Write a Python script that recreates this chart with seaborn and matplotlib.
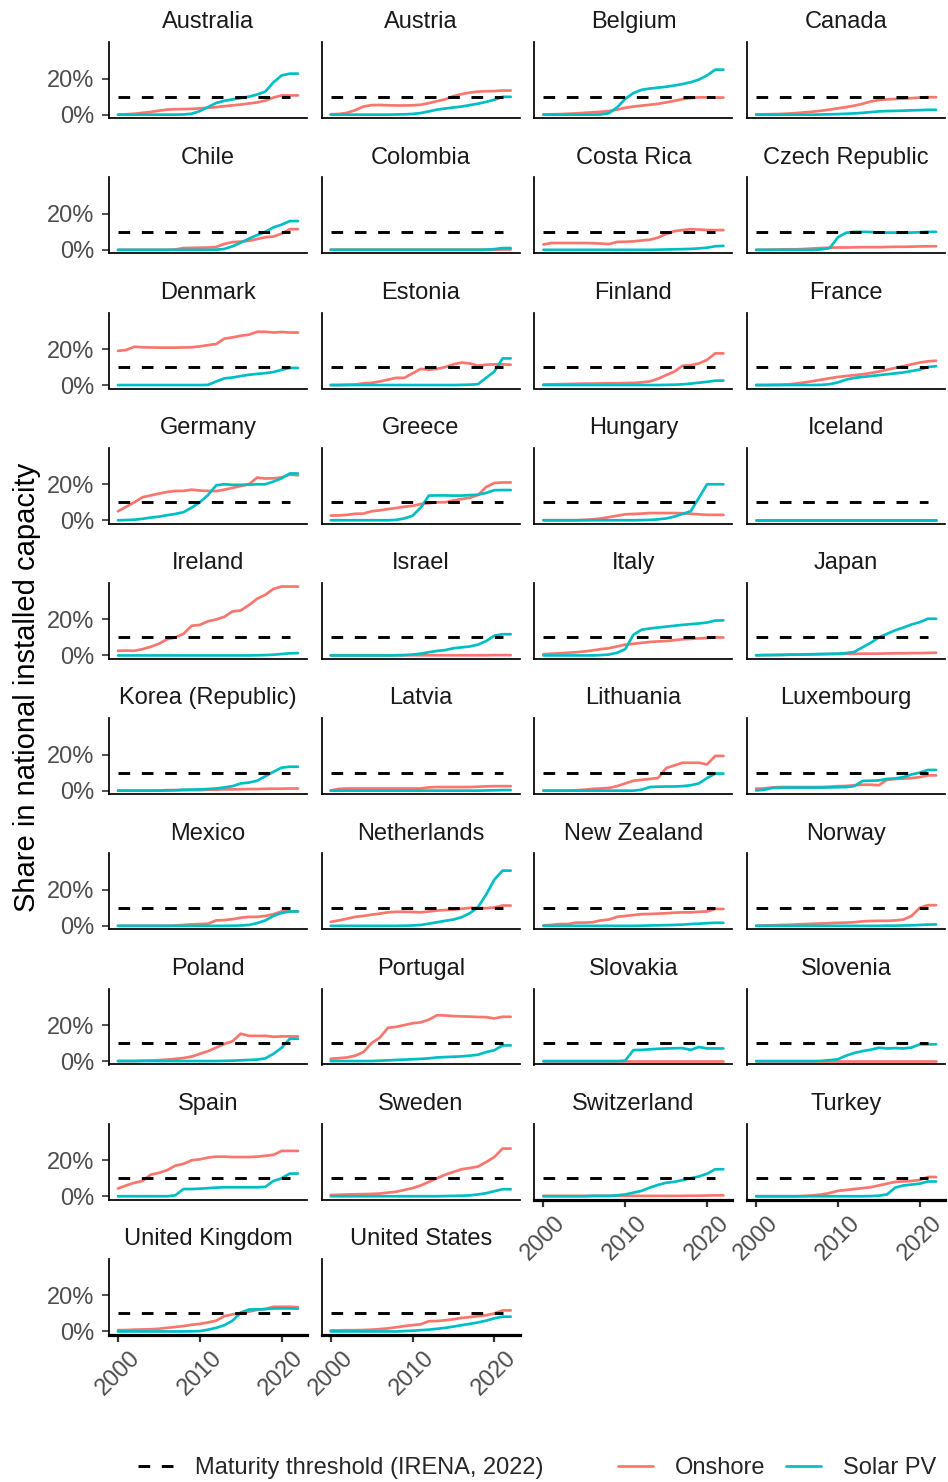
import matplotlib
matplotlib.use("Agg")
import matplotlib.pyplot as plt
import pandas as pd
import seaborn as sns
from matplotlib.lines import Line2D
from matplotlib.ticker import PercentFormatter

# ---------------------------------------------------------------- data
YEARS = list(range(2000, 2023))

COUNTRIES = [
    "Australia", "Austria", "Belgium", "Canada",
    "Chile", "Colombia", "Costa Rica", "Czech Republic",
    "Denmark", "Estonia", "Finland", "France",
    "Germany", "Greece", "Hungary", "Iceland",
    "Ireland", "Israel", "Italy", "Japan",
    "Korea (Republic)", "Latvia", "Lithuania", "Luxembourg",
    "Mexico", "Netherlands", "New Zealand", "Norway",
    "Poland", "Portugal", "Slovakia", "Slovenia",
    "Spain", "Sweden", "Switzerland", "Turkey",
    "United Kingdom", "United States",
]

TECHS = ["Onshore", "Solar PV"]
TECH_COLORS = ["#F8766D", "#00BFC4"]

# maturity threshold (share of national capacity)
THRESHOLD_YEARS = [2000, 2021]
THRESHOLD_SHARE = [0.10, 0.10]

# share in national installed capacity, 2000-2022
au_on = [0.000, 0.002, 0.005, 0.010, 0.015, 0.022, 0.028, 0.030, 0.031, 0.032, 0.035, 0.038, 0.042, 0.047, 0.052, 0.056, 0.062, 0.068, 0.078, 0.095, 0.107, 0.107, 0.107]
au_pv = [0.000, 0.000, 0.000, 0.000, 0.000, 0.000, 0.000, 0.000, 0.001, 0.005, 0.020, 0.042, 0.065, 0.077, 0.085, 0.092, 0.100, 0.112, 0.128, 0.180, 0.218, 0.228, 0.228]
at_on = [0.002, 0.004, 0.010, 0.025, 0.045, 0.053, 0.054, 0.052, 0.051, 0.051, 0.052, 0.055, 0.064, 0.075, 0.085, 0.103, 0.114, 0.123, 0.128, 0.130, 0.131, 0.134, 0.134]
at_pv = [0.000, 0.000, 0.000, 0.000, 0.000, 0.000, 0.000, 0.000, 0.001, 0.002, 0.004, 0.009, 0.018, 0.028, 0.034, 0.040, 0.045, 0.053, 0.061, 0.071, 0.083, 0.099, 0.099]
be_on = [0.001, 0.002, 0.003, 0.005, 0.007, 0.010, 0.013, 0.016, 0.020, 0.028, 0.038, 0.045, 0.050, 0.055, 0.060, 0.068, 0.077, 0.086, 0.092, 0.096, 0.096, 0.095, 0.095]
be_pv = [0.000, 0.000, 0.000, 0.000, 0.000, 0.000, 0.000, 0.001, 0.008, 0.040, 0.088, 0.120, 0.138, 0.145, 0.150, 0.155, 0.162, 0.170, 0.180, 0.195, 0.218, 0.250, 0.250]
ca_on = [0.001, 0.002, 0.003, 0.004, 0.006, 0.009, 0.013, 0.017, 0.022, 0.028, 0.035, 0.042, 0.050, 0.060, 0.073, 0.081, 0.085, 0.087, 0.089, 0.092, 0.095, 0.097, 0.097]
ca_pv = [0.000, 0.000, 0.000, 0.000, 0.000, 0.000, 0.000, 0.000, 0.001, 0.002, 0.003, 0.005, 0.007, 0.010, 0.014, 0.018, 0.020, 0.021, 0.022, 0.024, 0.025, 0.027, 0.027]
cl_on = [0.000, 0.000, 0.000, 0.000, 0.000, 0.000, 0.000, 0.002, 0.010, 0.011, 0.012, 0.013, 0.016, 0.033, 0.043, 0.046, 0.050, 0.060, 0.070, 0.074, 0.090, 0.115, 0.115]
cl_pv = [0.000, 0.000, 0.000, 0.000, 0.000, 0.000, 0.000, 0.000, 0.000, 0.000, 0.000, 0.000, 0.001, 0.005, 0.020, 0.040, 0.062, 0.082, 0.100, 0.125, 0.140, 0.160, 0.160]
co_on = [0.001, 0.001, 0.001, 0.001, 0.001, 0.001, 0.001, 0.001, 0.001, 0.001, 0.001, 0.001, 0.001, 0.001, 0.001, 0.001, 0.001, 0.001, 0.001, 0.001, 0.001, 0.002, 0.002]
co_pv = [0.000, 0.000, 0.000, 0.000, 0.000, 0.000, 0.000, 0.000, 0.000, 0.000, 0.000, 0.000, 0.000, 0.000, 0.000, 0.000, 0.000, 0.000, 0.000, 0.001, 0.004, 0.010, 0.010]
cr_on = [0.030, 0.038, 0.038, 0.038, 0.038, 0.038, 0.037, 0.035, 0.032, 0.044, 0.045, 0.047, 0.052, 0.056, 0.068, 0.088, 0.104, 0.110, 0.115, 0.113, 0.110, 0.110, 0.110]
cr_pv = [0.000, 0.000, 0.000, 0.000, 0.000, 0.000, 0.000, 0.000, 0.000, 0.000, 0.000, 0.000, 0.000, 0.000, 0.001, 0.002, 0.003, 0.004, 0.005, 0.008, 0.012, 0.020, 0.022]
cz_on = [0.000, 0.000, 0.001, 0.002, 0.003, 0.003, 0.005, 0.008, 0.010, 0.012, 0.013, 0.013, 0.014, 0.015, 0.015, 0.015, 0.016, 0.017, 0.017, 0.018, 0.019, 0.020, 0.020]
cz_pv = [0.000, 0.000, 0.000, 0.000, 0.000, 0.000, 0.000, 0.000, 0.003, 0.010, 0.070, 0.095, 0.100, 0.100, 0.099, 0.097, 0.096, 0.096, 0.095, 0.096, 0.098, 0.100, 0.100]
dk_on = [0.190, 0.195, 0.213, 0.210, 0.209, 0.208, 0.208, 0.208, 0.209, 0.210, 0.215, 0.222, 0.228, 0.258, 0.265, 0.274, 0.280, 0.296, 0.296, 0.292, 0.295, 0.292, 0.292]
dk_pv = [0.000, 0.000, 0.000, 0.000, 0.000, 0.000, 0.000, 0.000, 0.000, 0.000, 0.000, 0.001, 0.020, 0.037, 0.042, 0.050, 0.057, 0.062, 0.066, 0.072, 0.085, 0.095, 0.095]
ee_on = [0.000, 0.000, 0.002, 0.003, 0.010, 0.012, 0.020, 0.030, 0.040, 0.040, 0.065, 0.090, 0.085, 0.090, 0.100, 0.115, 0.125, 0.120, 0.108, 0.113, 0.115, 0.115, 0.113]
ee_pv = [0.000, 0.000, 0.000, 0.000, 0.000, 0.000, 0.000, 0.000, 0.000, 0.000, 0.000, 0.000, 0.000, 0.000, 0.000, 0.000, 0.001, 0.002, 0.005, 0.040, 0.075, 0.148, 0.148]
fi_on = [0.003, 0.004, 0.005, 0.006, 0.007, 0.008, 0.008, 0.009, 0.010, 0.010, 0.011, 0.012, 0.015, 0.020, 0.035, 0.055, 0.075, 0.107, 0.110, 0.120, 0.140, 0.176, 0.176]
fi_pv = [0.000, 0.000, 0.000, 0.000, 0.000, 0.000, 0.000, 0.000, 0.000, 0.000, 0.000, 0.000, 0.000, 0.000, 0.000, 0.001, 0.002, 0.004, 0.008, 0.013, 0.018, 0.024, 0.025]
fr_on = [0.000, 0.000, 0.001, 0.002, 0.004, 0.009, 0.015, 0.022, 0.030, 0.038, 0.045, 0.050, 0.055, 0.060, 0.067, 0.075, 0.085, 0.095, 0.105, 0.115, 0.125, 0.132, 0.135]
fr_pv = [0.000, 0.000, 0.000, 0.000, 0.000, 0.000, 0.000, 0.000, 0.001, 0.005, 0.015, 0.030, 0.040, 0.045, 0.050, 0.055, 0.060, 0.065, 0.070, 0.078, 0.086, 0.100, 0.105]
de_on = [0.050, 0.075, 0.100, 0.128, 0.138, 0.148, 0.157, 0.163, 0.163, 0.170, 0.165, 0.163, 0.162, 0.170, 0.180, 0.190, 0.200, 0.237, 0.232, 0.233, 0.238, 0.254, 0.250]
de_pv = [0.000, 0.001, 0.003, 0.008, 0.015, 0.020, 0.028, 0.035, 0.045, 0.070, 0.100, 0.140, 0.194, 0.200, 0.197, 0.197, 0.198, 0.200, 0.200, 0.215, 0.233, 0.260, 0.260]
gr_on = [0.026, 0.027, 0.030, 0.036, 0.037, 0.050, 0.055, 0.062, 0.068, 0.075, 0.080, 0.090, 0.095, 0.100, 0.100, 0.110, 0.118, 0.125, 0.140, 0.185, 0.207, 0.210, 0.210]
gr_pv = [0.000, 0.000, 0.000, 0.000, 0.000, 0.000, 0.000, 0.000, 0.002, 0.010, 0.025, 0.070, 0.137, 0.138, 0.138, 0.137, 0.137, 0.140, 0.142, 0.152, 0.167, 0.168, 0.168]
hu_on = [0.000, 0.000, 0.000, 0.000, 0.000, 0.002, 0.005, 0.010, 0.017, 0.025, 0.033, 0.035, 0.037, 0.040, 0.040, 0.040, 0.040, 0.039, 0.036, 0.033, 0.030, 0.030, 0.030]
hu_pv = [0.000, 0.000, 0.000, 0.000, 0.000, 0.000, 0.000, 0.000, 0.000, 0.000, 0.000, 0.000, 0.001, 0.002, 0.005, 0.010, 0.020, 0.035, 0.050, 0.124, 0.200, 0.200, 0.200]
is_on = [0.000, 0.000, 0.000, 0.000, 0.000, 0.000, 0.000, 0.000, 0.000, 0.000, 0.000, 0.000, 0.000, 0.000, 0.000, 0.000, 0.000, 0.000, 0.000, 0.000, 0.000, 0.000, 0.000]
is_pv = [0.000, 0.000, 0.000, 0.000, 0.000, 0.000, 0.000, 0.000, 0.000, 0.000, 0.000, 0.000, 0.000, 0.000, 0.000, 0.000, 0.000, 0.000, 0.000, 0.000, 0.000, 0.000, 0.000]
ie_on = [0.026, 0.027, 0.026, 0.035, 0.048, 0.065, 0.090, 0.100, 0.120, 0.165, 0.170, 0.190, 0.200, 0.215, 0.245, 0.250, 0.280, 0.315, 0.337, 0.370, 0.383, 0.383, 0.383]
ie_pv = [0.000, 0.000, 0.000, 0.000, 0.000, 0.000, 0.000, 0.000, 0.000, 0.000, 0.000, 0.000, 0.000, 0.000, 0.000, 0.000, 0.000, 0.001, 0.002, 0.004, 0.008, 0.012, 0.013]
il_on = [0.001, 0.001, 0.001, 0.001, 0.001, 0.001, 0.001, 0.001, 0.001, 0.001, 0.001, 0.001, 0.001, 0.001, 0.001, 0.001, 0.001, 0.001, 0.001, 0.001, 0.002, 0.002, 0.002]
il_pv = [0.000, 0.000, 0.000, 0.000, 0.000, 0.000, 0.000, 0.000, 0.001, 0.002, 0.005, 0.010, 0.018, 0.025, 0.030, 0.040, 0.045, 0.050, 0.060, 0.080, 0.110, 0.118, 0.118]
it_on = [0.007, 0.010, 0.012, 0.015, 0.018, 0.022, 0.028, 0.035, 0.040, 0.050, 0.060, 0.065, 0.070, 0.075, 0.078, 0.080, 0.085, 0.090, 0.092, 0.095, 0.097, 0.100, 0.100]
it_pv = [0.000, 0.000, 0.000, 0.000, 0.000, 0.000, 0.000, 0.002, 0.005, 0.015, 0.035, 0.115, 0.143, 0.150, 0.155, 0.160, 0.165, 0.170, 0.174, 0.178, 0.183, 0.194, 0.195]
jp_on = [0.001, 0.002, 0.003, 0.003, 0.004, 0.004, 0.005, 0.006, 0.007, 0.008, 0.008, 0.009, 0.009, 0.010, 0.010, 0.010, 0.011, 0.012, 0.012, 0.013, 0.013, 0.014, 0.015]
jp_pv = [0.001, 0.002, 0.002, 0.003, 0.004, 0.005, 0.006, 0.007, 0.008, 0.009, 0.010, 0.013, 0.020, 0.045, 0.070, 0.100, 0.120, 0.140, 0.155, 0.172, 0.185, 0.204, 0.204]
kr_on = [0.000, 0.000, 0.000, 0.000, 0.000, 0.001, 0.003, 0.003, 0.003, 0.003, 0.003, 0.005, 0.006, 0.007, 0.007, 0.008, 0.009, 0.009, 0.010, 0.011, 0.011, 0.012, 0.012]
kr_pv = [0.000, 0.000, 0.000, 0.000, 0.000, 0.000, 0.001, 0.002, 0.005, 0.006, 0.007, 0.009, 0.012, 0.018, 0.025, 0.040, 0.045, 0.055, 0.080, 0.105, 0.128, 0.133, 0.133]
lv_on = [0.001, 0.010, 0.012, 0.012, 0.012, 0.012, 0.012, 0.012, 0.012, 0.012, 0.012, 0.012, 0.018, 0.020, 0.020, 0.020, 0.020, 0.020, 0.022, 0.024, 0.025, 0.025, 0.025]
lv_pv = [0.000, 0.000, 0.000, 0.000, 0.000, 0.000, 0.000, 0.000, 0.000, 0.000, 0.000, 0.000, 0.000, 0.000, 0.000, 0.000, 0.000, 0.000, 0.000, 0.001, 0.002, 0.003, 0.003]
lt_on = [0.000, 0.000, 0.000, 0.000, 0.002, 0.005, 0.010, 0.012, 0.015, 0.025, 0.040, 0.055, 0.060, 0.065, 0.070, 0.125, 0.140, 0.155, 0.155, 0.155, 0.146, 0.193, 0.193]
lt_pv = [0.000, 0.000, 0.000, 0.000, 0.000, 0.000, 0.000, 0.000, 0.000, 0.000, 0.000, 0.000, 0.005, 0.020, 0.022, 0.023, 0.023, 0.025, 0.030, 0.040, 0.070, 0.095, 0.095]
lu_on = [0.011, 0.012, 0.018, 0.020, 0.020, 0.020, 0.020, 0.020, 0.020, 0.022, 0.025, 0.026, 0.030, 0.033, 0.033, 0.030, 0.060, 0.065, 0.067, 0.070, 0.075, 0.085, 0.085]
lu_pv = [0.001, 0.005, 0.015, 0.016, 0.017, 0.017, 0.017, 0.017, 0.017, 0.018, 0.019, 0.020, 0.025, 0.054, 0.055, 0.057, 0.065, 0.068, 0.075, 0.090, 0.100, 0.115, 0.115]
mx_on = [0.000, 0.000, 0.000, 0.000, 0.000, 0.000, 0.000, 0.002, 0.005, 0.008, 0.010, 0.012, 0.030, 0.032, 0.037, 0.045, 0.050, 0.050, 0.055, 0.065, 0.080, 0.080, 0.080]
mx_pv = [0.000, 0.000, 0.000, 0.000, 0.000, 0.000, 0.000, 0.000, 0.000, 0.000, 0.000, 0.000, 0.000, 0.000, 0.001, 0.002, 0.005, 0.015, 0.030, 0.055, 0.072, 0.080, 0.080]
nl_on = [0.022, 0.030, 0.040, 0.050, 0.055, 0.062, 0.068, 0.075, 0.078, 0.078, 0.077, 0.075, 0.080, 0.085, 0.088, 0.090, 0.095, 0.100, 0.100, 0.098, 0.102, 0.113, 0.113]
nl_pv = [0.000, 0.000, 0.000, 0.000, 0.000, 0.000, 0.000, 0.000, 0.000, 0.001, 0.002, 0.005, 0.012, 0.020, 0.028, 0.035, 0.048, 0.070, 0.104, 0.174, 0.257, 0.307, 0.307]
nz_on = [0.003, 0.005, 0.010, 0.010, 0.018, 0.018, 0.020, 0.030, 0.035, 0.050, 0.055, 0.060, 0.065, 0.066, 0.068, 0.070, 0.073, 0.075, 0.075, 0.078, 0.080, 0.094, 0.094]
nz_pv = [0.000, 0.000, 0.000, 0.000, 0.000, 0.000, 0.000, 0.000, 0.000, 0.000, 0.000, 0.000, 0.001, 0.002, 0.003, 0.004, 0.005, 0.007, 0.010, 0.012, 0.015, 0.017, 0.017]
no_on = [0.001, 0.002, 0.003, 0.005, 0.006, 0.008, 0.010, 0.012, 0.013, 0.015, 0.017, 0.018, 0.020, 0.025, 0.027, 0.028, 0.028, 0.030, 0.035, 0.055, 0.100, 0.115, 0.115]
no_pv = [0.000, 0.000, 0.000, 0.000, 0.000, 0.000, 0.000, 0.000, 0.000, 0.000, 0.000, 0.000, 0.000, 0.000, 0.000, 0.000, 0.001, 0.001, 0.002, 0.003, 0.005, 0.007, 0.008]
pl_on = [0.000, 0.000, 0.000, 0.002, 0.003, 0.005, 0.008, 0.012, 0.017, 0.025, 0.040, 0.055, 0.075, 0.095, 0.110, 0.152, 0.140, 0.140, 0.140, 0.135, 0.137, 0.137, 0.137]
pl_pv = [0.000, 0.000, 0.000, 0.000, 0.000, 0.000, 0.000, 0.000, 0.000, 0.000, 0.000, 0.000, 0.000, 0.001, 0.002, 0.004, 0.006, 0.008, 0.015, 0.040, 0.074, 0.124, 0.124]
pt_on = [0.013, 0.016, 0.020, 0.030, 0.050, 0.100, 0.130, 0.185, 0.190, 0.200, 0.210, 0.215, 0.230, 0.255, 0.253, 0.250, 0.248, 0.247, 0.245, 0.244, 0.237, 0.246, 0.246]
pt_pv = [0.000, 0.000, 0.000, 0.000, 0.000, 0.000, 0.002, 0.004, 0.006, 0.008, 0.010, 0.012, 0.015, 0.020, 0.022, 0.024, 0.026, 0.030, 0.035, 0.050, 0.060, 0.087, 0.087]
sk_on = [0.002, 0.002, 0.002, 0.002, 0.002, 0.002, 0.002, 0.002, 0.002, 0.002, 0.002, 0.002, 0.002, 0.002, 0.002, 0.002, 0.002, 0.002, 0.002, 0.002, 0.002, 0.002, 0.002]
sk_pv = [0.000, 0.000, 0.000, 0.000, 0.000, 0.000, 0.000, 0.000, 0.000, 0.000, 0.002, 0.061, 0.062, 0.065, 0.068, 0.070, 0.071, 0.072, 0.062, 0.078, 0.070, 0.070, 0.070]
si_on = [0.001, 0.001, 0.001, 0.001, 0.001, 0.001, 0.001, 0.001, 0.001, 0.001, 0.001, 0.001, 0.001, 0.001, 0.001, 0.001, 0.001, 0.001, 0.001, 0.001, 0.001, 0.001, 0.001]
si_pv = [0.000, 0.000, 0.000, 0.000, 0.000, 0.000, 0.000, 0.000, 0.001, 0.005, 0.010, 0.030, 0.045, 0.055, 0.063, 0.074, 0.070, 0.072, 0.070, 0.075, 0.093, 0.093, 0.093]
es_on = [0.043, 0.060, 0.075, 0.085, 0.120, 0.130, 0.145, 0.170, 0.180, 0.200, 0.205, 0.215, 0.220, 0.220, 0.218, 0.218, 0.218, 0.220, 0.225, 0.230, 0.252, 0.252, 0.252]
es_pv = [0.000, 0.000, 0.000, 0.000, 0.000, 0.000, 0.000, 0.005, 0.040, 0.040, 0.042, 0.045, 0.048, 0.050, 0.050, 0.050, 0.050, 0.050, 0.052, 0.085, 0.100, 0.126, 0.126]
se_on = [0.007, 0.008, 0.010, 0.011, 0.012, 0.013, 0.015, 0.020, 0.025, 0.035, 0.045, 0.060, 0.080, 0.100, 0.120, 0.135, 0.150, 0.157, 0.165, 0.190, 0.218, 0.265, 0.265]
se_pv = [0.000, 0.000, 0.000, 0.000, 0.000, 0.000, 0.000, 0.000, 0.000, 0.000, 0.000, 0.000, 0.000, 0.000, 0.001, 0.002, 0.003, 0.005, 0.010, 0.017, 0.028, 0.039, 0.039]
ch_on = [0.002, 0.002, 0.002, 0.002, 0.002, 0.002, 0.002, 0.002, 0.002, 0.002, 0.002, 0.002, 0.002, 0.002, 0.002, 0.002, 0.002, 0.002, 0.003, 0.003, 0.004, 0.005, 0.005]
ch_pv = [0.000, 0.000, 0.000, 0.000, 0.000, 0.000, 0.002, 0.002, 0.002, 0.005, 0.010, 0.020, 0.030, 0.048, 0.063, 0.075, 0.080, 0.090, 0.100, 0.110, 0.125, 0.150, 0.150]
tr_on = [0.000, 0.000, 0.000, 0.000, 0.000, 0.000, 0.002, 0.005, 0.010, 0.018, 0.030, 0.035, 0.040, 0.045, 0.050, 0.060, 0.070, 0.080, 0.082, 0.085, 0.090, 0.107, 0.107]
tr_pv = [0.000, 0.000, 0.000, 0.000, 0.000, 0.000, 0.000, 0.000, 0.000, 0.000, 0.000, 0.000, 0.000, 0.000, 0.001, 0.003, 0.010, 0.048, 0.060, 0.065, 0.070, 0.082, 0.082]
gb_on = [0.007, 0.008, 0.010, 0.011, 0.012, 0.015, 0.020, 0.025, 0.030, 0.037, 0.042, 0.050, 0.060, 0.085, 0.095, 0.100, 0.110, 0.120, 0.125, 0.137, 0.137, 0.137, 0.135]
gb_pv = [0.000, 0.000, 0.000, 0.000, 0.000, 0.000, 0.000, 0.000, 0.000, 0.001, 0.002, 0.010, 0.020, 0.035, 0.060, 0.105, 0.122, 0.123, 0.124, 0.128, 0.128, 0.128, 0.127]
us_on = [0.006, 0.006, 0.007, 0.007, 0.008, 0.010, 0.013, 0.017, 0.023, 0.030, 0.035, 0.040, 0.057, 0.058, 0.062, 0.068, 0.075, 0.080, 0.085, 0.090, 0.100, 0.117, 0.117]
us_pv = [0.000, 0.000, 0.000, 0.000, 0.000, 0.000, 0.000, 0.000, 0.000, 0.002, 0.004, 0.007, 0.010, 0.015, 0.020, 0.027, 0.035, 0.042, 0.050, 0.060, 0.073, 0.082, 0.082]

SERIES = [
    (au_on, au_pv), (at_on, at_pv), (be_on, be_pv), (ca_on, ca_pv),
    (cl_on, cl_pv), (co_on, co_pv), (cr_on, cr_pv), (cz_on, cz_pv),
    (dk_on, dk_pv), (ee_on, ee_pv), (fi_on, fi_pv), (fr_on, fr_pv),
    (de_on, de_pv), (gr_on, gr_pv), (hu_on, hu_pv), (is_on, is_pv),
    (ie_on, ie_pv), (il_on, il_pv), (it_on, it_pv), (jp_on, jp_pv),
    (kr_on, kr_pv), (lv_on, lv_pv), (lt_on, lt_pv), (lu_on, lu_pv),
    (mx_on, mx_pv), (nl_on, nl_pv), (nz_on, nz_pv), (no_on, no_pv),
    (pl_on, pl_pv), (pt_on, pt_pv), (sk_on, sk_pv), (si_on, si_pv),
    (es_on, es_pv), (se_on, se_pv), (ch_on, ch_pv), (tr_on, tr_pv),
    (gb_on, gb_pv), (us_on, us_pv),
]

rows = []
for country, pair in zip(COUNTRIES, SERIES):
    for tech, values in zip(TECHS, pair):
        for year, share in zip(YEARS, values):
            rows.append({"country": country, "tech": tech, "year": year, "share": share})
df = pd.DataFrame(rows)

# ---------------------------------------------------------------- style
sns.set_theme(style="ticks")
plt.rcParams["font.family"] = ["Liberation Sans", "DejaVu Sans"]

W, H = 948, 1482
SMALL = 17.0       # tick labels, strips, legend (pt)
LARGE = 21.0       # axis title (pt)
AX_LW = 1.25
LINE_LW = 1.95
THR_LW = 2.1

g = sns.relplot(
    data=df, x="year", y="share", hue="tech", hue_order=TECHS,
    palette=TECH_COLORS, col="country", col_order=COUNTRIES, col_wrap=4,
    kind="line", legend=False, height=1.5, aspect=2, linewidth=LINE_LW,
    facet_kws=dict(sharex=True, sharey=True),
)
fig = g.figure
fig.set_size_inches(W / 100, H / 100)
fig.set_dpi(100)

ymax = df["share"].max()
pad = 0.05 * ymax
xpad = 0.05 * (YEARS[-1] - YEARS[0])

g.set_titles("{col_name}", size=SMALL, color="#1A1A1A", pad=10)
g.set_axis_labels("", "")

n = len(COUNTRIES)
for i, country in enumerate(COUNTRIES):
    ax = g.axes_dict[country]
    r, c = divmod(i, 4)
    left = 109 + 212.7 * c
    bottom = 118.1 + 135.2 * r
    ax.set_position([left / W, 1 - bottom / H, 198 / W, 75.8 / H])

    sns.lineplot(x=THRESHOLD_YEARS, y=THRESHOLD_SHARE, ax=ax, color="black",
                 linewidth=THR_LW, linestyle=(0, (4, 4)), zorder=3)

    ax.set_xlim(YEARS[0] - xpad, YEARS[-1] + xpad)
    ax.set_ylim(-pad, ymax + pad)
    ax.set_xticks([2000, 2010, 2020])
    ax.set_yticks([0, 0.2])
    ax.yaxis.set_major_formatter(PercentFormatter(xmax=1, decimals=0))
    ax.set_xlabel("")
    ax.set_ylabel("")

    is_bottom = i + 4 >= n
    is_left = c == 0
    for side in ("left", "bottom"):
        ax.spines[side].set_color("black")
        ax.spines[side].set_linewidth(AX_LW)
    if is_bottom:
        ax.spines["bottom"].set_linewidth(2.3)

    ax.tick_params(axis="y", left=is_left, labelleft=is_left, length=5.2, width=1.2,
                   color="#333333", pad=5.5, labelsize=SMALL, labelcolor="#4D4D4D")
    ax.tick_params(axis="x", bottom=is_bottom, labelbottom=is_bottom, length=5.2, width=1.6,
                   color="#333333", pad=3.5, labelsize=SMALL, labelcolor="#4D4D4D")
    if is_bottom:
        for lab in ax.get_xticklabels():
            lab.set_rotation(45)
            lab.set_ha("center")
            lab.set_va("top")

fig.text(27 / W, 1 - 687 / H, "Share in national installed capacity", rotation=90,
         ha="center", va="center", fontsize=LARGE, color="black")

# legends
thr_handle = [Line2D([], [], color="black", linewidth=THR_LW, linestyle=(0, (4, 4)))]
fig.legend(thr_handle, ["Maturity threshold (IRENA, 2022)"], loc="center left",
           bbox_to_anchor=(138 / W, 1 - 1468 / H), frameon=False, fontsize=SMALL,
           handlelength=1.5, handletextpad=0.93, borderpad=0, borderaxespad=0)
tech_handles = [Line2D([], [], color=col, linewidth=LINE_LW) for col in TECH_COLORS]
fig.legend(tech_handles, TECHS, loc="center left", ncol=2,
           bbox_to_anchor=(618 / W, 1 - 1468 / H), frameon=False, fontsize=SMALL,
           handlelength=1.5, handletextpad=0.93, columnspacing=0.85,
           borderpad=0, borderaxespad=0)

fig.savefig("out.png", dpi=100)
